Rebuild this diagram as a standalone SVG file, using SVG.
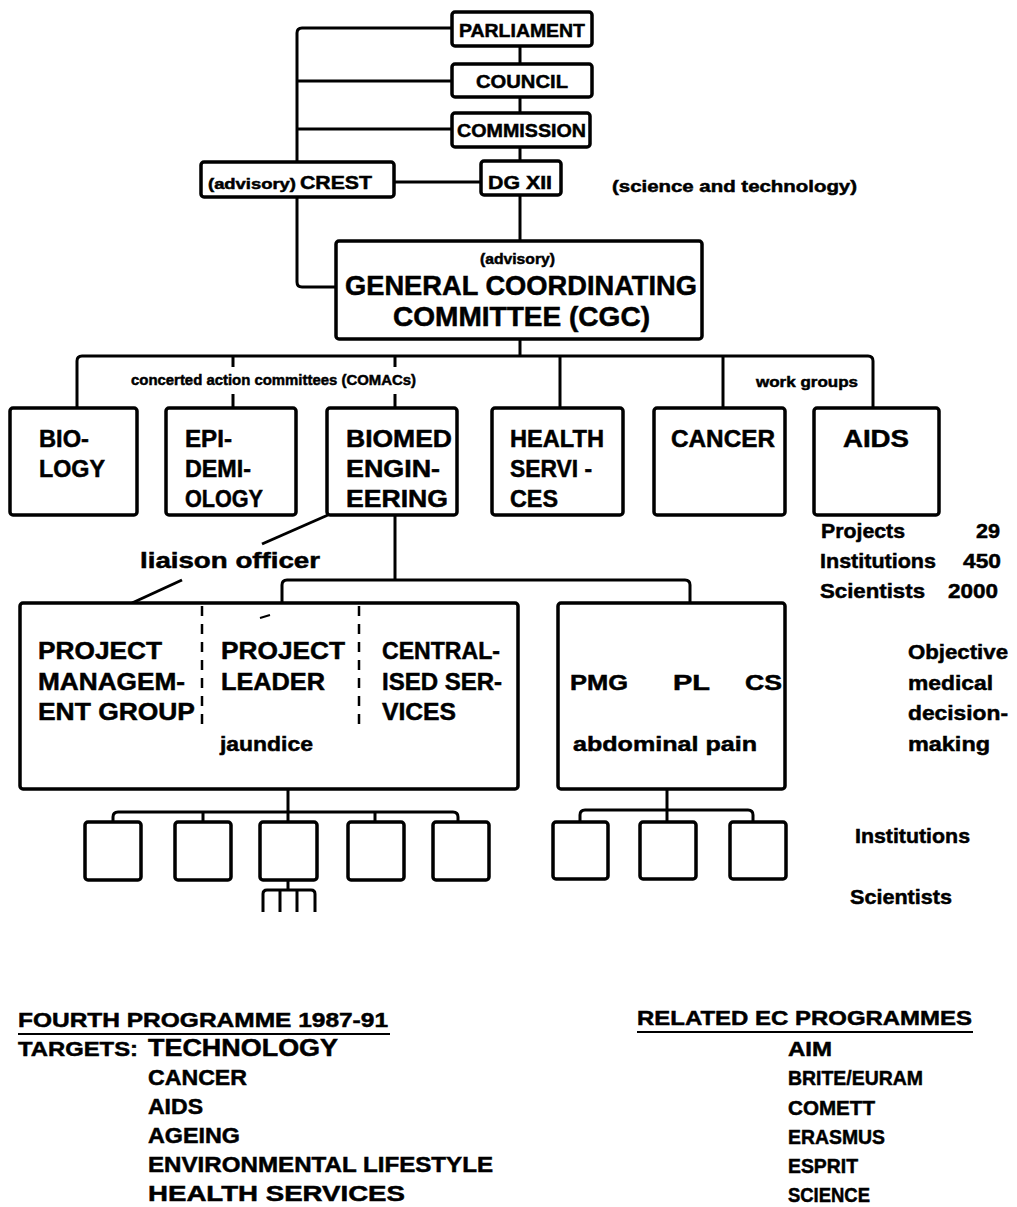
<svg xmlns="http://www.w3.org/2000/svg" width="1017" height="1207" viewBox="0 0 1017 1207">
  <style>
    .box { fill: #fff; stroke: #000; stroke-width: 3.5; }
    .ln { fill: none; stroke: #000; stroke-width: 3; stroke-linejoin: round; stroke-linecap: butt; }
    .dash { fill: none; stroke: #000; stroke-width: 2.5; stroke-dasharray: 10 8; }
    text { font-family: "Liberation Sans", Arial, sans-serif; font-weight: bold; fill: #000; stroke: #000; stroke-width: 0.5; }
    .t19 { font-size: 19px; }
    .t15 { font-size: 15px; }
    .t17 { font-size: 17px; }
    .t27 { font-size: 27px; }
    .t24 { font-size: 24px; }
    .t21 { font-size: 21px; }
    .t22 { font-size: 22px; }
  </style>

  <!-- connectors -->
  <g id="connectors">
    <!-- left spine feeding the CGC -->
    <path class="ln" d="M452,28 H302 Q297,28 297,33 V282 Q297,287 302,287 H336"/>
    <path class="ln" d="M297,81 H452"/>
    <path class="ln" d="M297,129 H452"/>
    <!-- central chain -->
    <path class="ln" d="M520,46 V240"/>
    <path class="ln" d="M394,182 H481"/>
    <!-- CGC to committees -->
    <path class="ln" d="M520,340 V356"/>
    <path class="ln" d="M77,408 V361 Q77,356 82,356 H868 Q873,356 873,361 V408"/>
    <path class="ln" d="M233,356 V367 M233,394 V408"/>
    <path class="ln" d="M395,356 V367 M395,394 V408"/>
    <path class="ln" d="M560,356 V408"/>
    <path class="ln" d="M723,356 V408"/>
    <!-- BIOMED to projects -->
    <path class="ln" d="M395,515 V580"/>
    <path class="ln" d="M282,603 V585 Q282,580 287,580 H685 Q690,580 690,585 V603"/>
    <!-- liaison officer -->
    <path class="ln" d="M328,515 L262,544"/>
    <path class="ln" d="M182,580 L132,603"/>
    <!-- jaundice project institutions -->
    <path class="ln" d="M288,789 V822"/>
    <path class="ln" d="M113,822 V817 Q113,812 118,812 H453 Q458,812 458,817 V822"/>
    <path class="ln" d="M203,812 V822"/>
    <path class="ln" d="M375,812 V822"/>
    <!-- scientists comb -->
    <path class="ln" d="M288,880 V890"/>
    <path class="ln" d="M263,912 V894 Q263,890 267,890 H311 Q315,890 315,894 V912"/>
    <path class="ln" d="M280,890 V912 M297,890 V912"/>
    <!-- abdominal pain project institutions -->
    <path class="ln" d="M667,789 V822"/>
    <path class="ln" d="M580,822 V815 Q580,810 585,810 H748 Q753,810 753,815 V822"/>
  </g>

  <g id="parliament">
    <rect class="box" x="452" y="12" width="140" height="34" rx="3"/>
    <text class="t19" x="459" y="37" textLength="126" lengthAdjust="spacingAndGlyphs">PARLIAMENT</text>
  </g>
  <g id="council">
    <rect class="box" x="452" y="64" width="140" height="33" rx="3"/>
    <text class="t19" x="476" y="88" textLength="92" lengthAdjust="spacingAndGlyphs">COUNCIL</text>
  </g>
  <g id="commission">
    <rect class="box" x="452" y="113" width="138" height="34" rx="3"/>
    <text class="t19" x="457" y="137" textLength="129" lengthAdjust="spacingAndGlyphs">COMMISSION</text>
  </g>
  <g id="crest">
    <rect class="box" x="201" y="162" width="193" height="35" rx="3"/>
    <text x="208" y="189"><tspan class="t15" textLength="88" lengthAdjust="spacingAndGlyphs">(advisory)</tspan><tspan class="t19" x="300" textLength="72" lengthAdjust="spacingAndGlyphs">CREST</tspan></text>
  </g>
  <g id="dgxii">
    <rect class="box" x="481" y="161" width="80" height="34" rx="3"/>
    <text class="t19" x="488" y="189" textLength="64" lengthAdjust="spacingAndGlyphs">DG XII</text>
  </g>
  <text class="t17" x="612" y="192" textLength="245" lengthAdjust="spacingAndGlyphs">(science and technology)</text>

  <g id="cgc">
    <rect class="box" x="336" y="241" width="366" height="98" rx="3"/>
    <text class="t15" x="480" y="264" textLength="75" lengthAdjust="spacingAndGlyphs">(advisory)</text>
    <text class="t27" x="345" y="295" textLength="352" lengthAdjust="spacingAndGlyphs">GENERAL COORDINATING</text>
    <text class="t27" x="393" y="326" textLength="257" lengthAdjust="spacingAndGlyphs">COMMITTEE (CGC)</text>
  </g>

  <text class="t15" x="131" y="385" textLength="285" lengthAdjust="spacingAndGlyphs">concerted action committees (COMACs)</text>
  <text class="t15" x="756" y="387" textLength="102" lengthAdjust="spacingAndGlyphs">work groups</text>

  <g id="biology">
    <rect class="box" x="10" y="408" width="127" height="107" rx="3"/>
    <text class="t24" x="39" y="447" textLength="50" lengthAdjust="spacingAndGlyphs">BIO-</text>
    <text class="t24" x="39" y="477" textLength="66" lengthAdjust="spacingAndGlyphs">LOGY</text>
  </g>
  <g id="epidemiology">
    <rect class="box" x="166" y="408" width="130" height="107" rx="3"/>
    <text class="t24" x="185" y="447" textLength="47" lengthAdjust="spacingAndGlyphs">EPI-</text>
    <text class="t24" x="185" y="477" textLength="66" lengthAdjust="spacingAndGlyphs">DEMI-</text>
    <text class="t24" x="185" y="507" textLength="78" lengthAdjust="spacingAndGlyphs">OLOGY</text>
  </g>
  <g id="biomed">
    <rect class="box" x="327" y="408" width="130" height="107" rx="3"/>
    <text class="t24" x="346" y="447" textLength="106" lengthAdjust="spacingAndGlyphs">BIOMED</text>
    <text class="t24" x="346" y="477" textLength="94" lengthAdjust="spacingAndGlyphs">ENGIN-</text>
    <text class="t24" x="346" y="507" textLength="102" lengthAdjust="spacingAndGlyphs">EERING</text>
  </g>
  <g id="health-services">
    <rect class="box" x="492" y="408" width="131" height="107" rx="3"/>
    <text class="t24" x="510" y="447" textLength="94" lengthAdjust="spacingAndGlyphs">HEALTH</text>
    <text class="t24" x="510" y="477" textLength="82" lengthAdjust="spacingAndGlyphs">SERVI -</text>
    <text class="t24" x="510" y="507" textLength="48" lengthAdjust="spacingAndGlyphs">CES</text>
  </g>
  <g id="cancer">
    <rect class="box" x="654" y="408" width="131" height="107" rx="3"/>
    <text class="t24" x="671" y="447" textLength="104" lengthAdjust="spacingAndGlyphs">CANCER</text>
  </g>
  <g id="aids">
    <rect class="box" x="814" y="408" width="125" height="107" rx="3"/>
    <text class="t24" x="843" y="447" textLength="66" lengthAdjust="spacingAndGlyphs">AIDS</text>
  </g>

  <g id="totals">
    <text class="t21" x="821" y="538" textLength="84" lengthAdjust="spacingAndGlyphs">Projects</text>
    <text class="t21" x="976" y="538" textLength="24" lengthAdjust="spacingAndGlyphs">29</text>
    <text class="t21" x="820" y="568" textLength="116" lengthAdjust="spacingAndGlyphs">Institutions</text>
    <text class="t21" x="963" y="568" textLength="38" lengthAdjust="spacingAndGlyphs">450</text>
    <text class="t21" x="820" y="598" textLength="105" lengthAdjust="spacingAndGlyphs">Scientists</text>
    <text class="t21" x="948" y="598" textLength="50" lengthAdjust="spacingAndGlyphs">2000</text>
  </g>

  <text class="t22" x="140" y="568" textLength="180" lengthAdjust="spacingAndGlyphs">liaison officer</text>

  <g id="jaundice-project">
    <rect class="box" x="20" y="603" width="498" height="186" rx="3"/>
    <path class="dash" d="M202,606 V730"/>
    <path class="dash" d="M359,606 V730"/>
    <path class="ln" d="M260,618 L270,615" style="stroke-width:2"/>
    <text class="t24" x="38" y="659" textLength="124" lengthAdjust="spacingAndGlyphs">PROJECT</text>
    <text class="t24" x="38" y="690" textLength="147" lengthAdjust="spacingAndGlyphs">MANAGEM-</text>
    <text class="t24" x="38" y="720" textLength="157" lengthAdjust="spacingAndGlyphs">ENT GROUP</text>
    <text class="t24" x="221" y="659" textLength="124" lengthAdjust="spacingAndGlyphs">PROJECT</text>
    <text class="t24" x="221" y="690" textLength="104" lengthAdjust="spacingAndGlyphs">LEADER</text>
    <text class="t21" x="220" y="751" textLength="93" lengthAdjust="spacingAndGlyphs">jaundice</text>
    <text class="t24" x="382" y="659" textLength="118" lengthAdjust="spacingAndGlyphs">CENTRAL-</text>
    <text class="t24" x="382" y="690" textLength="120" lengthAdjust="spacingAndGlyphs">ISED SER-</text>
    <text class="t24" x="382" y="720" textLength="74" lengthAdjust="spacingAndGlyphs">VICES</text>
  </g>

  <g id="abdominal-pain-project">
    <rect class="box" x="558" y="603" width="227" height="186" rx="3"/>
    <text class="t22" x="570" y="690" textLength="58" lengthAdjust="spacingAndGlyphs">PMG</text>
    <text class="t22" x="673" y="690" textLength="37" lengthAdjust="spacingAndGlyphs">PL</text>
    <text class="t22" x="745" y="690" textLength="37" lengthAdjust="spacingAndGlyphs">CS</text>
    <text class="t21" x="573" y="751" textLength="184" lengthAdjust="spacingAndGlyphs">abdominal pain</text>
  </g>

  <g id="objective">
    <text class="t21" x="908" y="659" textLength="100" lengthAdjust="spacingAndGlyphs">Objective</text>
    <text class="t21" x="908" y="690" textLength="85" lengthAdjust="spacingAndGlyphs">medical</text>
    <text class="t21" x="908" y="720" textLength="100" lengthAdjust="spacingAndGlyphs">decision-</text>
    <text class="t21" x="908" y="751" textLength="82" lengthAdjust="spacingAndGlyphs">making</text>
  </g>

  <g id="institutions-a">
    <rect class="box" x="85" y="822" width="56" height="58" rx="3"/>
    <rect class="box" x="175" y="822" width="56" height="58" rx="3"/>
    <rect class="box" x="260" y="822" width="57" height="58" rx="3"/>
    <rect class="box" x="348" y="822" width="56" height="58" rx="3"/>
    <rect class="box" x="433" y="822" width="56" height="58" rx="3"/>
  </g>
  <g id="institutions-b">
    <rect class="box" x="553" y="822" width="55" height="57" rx="3"/>
    <rect class="box" x="640" y="822" width="56" height="57" rx="3"/>
    <rect class="box" x="730" y="822" width="56" height="57" rx="3"/>
  </g>

  <text class="t21" x="855" y="843" textLength="115" lengthAdjust="spacingAndGlyphs">Institutions</text>
  <text class="t21" x="850" y="904" textLength="102" lengthAdjust="spacingAndGlyphs">Scientists</text>

  <g id="fourth-programme">
    <text class="t21" x="18" y="1027" textLength="370" lengthAdjust="spacingAndGlyphs">FOURTH PROGRAMME 1987-91</text>
    <path class="ln" d="M18,1034 H390" style="stroke-width:2"/>
    <text class="t21" x="18" y="1056" textLength="120" lengthAdjust="spacingAndGlyphs">TARGETS:</text>
    <text class="t24" x="148" y="1056" textLength="190" lengthAdjust="spacingAndGlyphs">TECHNOLOGY</text>
    <text class="t22" x="148" y="1085" textLength="99" lengthAdjust="spacingAndGlyphs">CANCER</text>
    <text class="t22" x="148" y="1114" textLength="55" lengthAdjust="spacingAndGlyphs">AIDS</text>
    <text class="t22" x="148" y="1143" textLength="92" lengthAdjust="spacingAndGlyphs">AGEING</text>
    <text class="t22" x="148" y="1172" textLength="345" lengthAdjust="spacingAndGlyphs">ENVIRONMENTAL LIFESTYLE</text>
    <text class="t22" x="148" y="1201" textLength="257" lengthAdjust="spacingAndGlyphs">HEALTH SERVICES</text>
  </g>

  <g id="related-programmes">
    <text class="t21" x="637" y="1025" textLength="335" lengthAdjust="spacingAndGlyphs">RELATED EC PROGRAMMES</text>
    <path class="ln" d="M637,1032 H973" style="stroke-width:2"/>
    <text class="t21" x="788" y="1056" textLength="44" lengthAdjust="spacingAndGlyphs">AIM</text>
    <text class="t21" x="788" y="1085" textLength="135" lengthAdjust="spacingAndGlyphs">BRITE/EURAM</text>
    <text class="t21" x="788" y="1115" textLength="87" lengthAdjust="spacingAndGlyphs">COMETT</text>
    <text class="t21" x="788" y="1144" textLength="97" lengthAdjust="spacingAndGlyphs">ERASMUS</text>
    <text class="t21" x="788" y="1173" textLength="70" lengthAdjust="spacingAndGlyphs">ESPRIT</text>
    <text class="t21" x="788" y="1202" textLength="82" lengthAdjust="spacingAndGlyphs">SCIENCE</text>
  </g>
</svg>
